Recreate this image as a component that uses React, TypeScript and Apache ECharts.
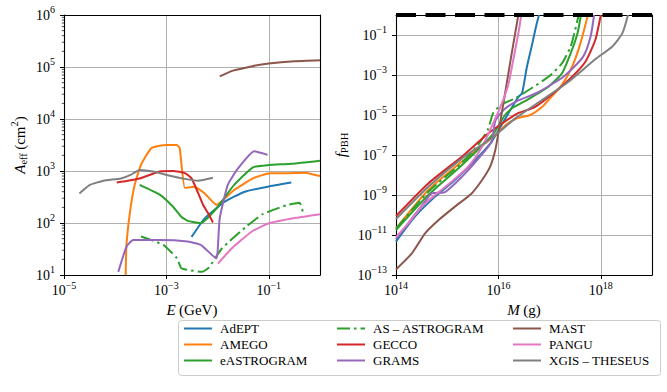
import React, { useEffect, useRef } from 'react';
import * as echarts from 'echarts';

// ---- Left panel: effective area A_eff (cm^2) vs E (GeV) ----
const adeptAeff = [[3.1e-3, 54], [5.6e-3, 123], [1.38e-2, 257], [3.4e-2, 400], [9.5e-2, 500], [2.75e-1, 600]];
const amegoAeff = [[1.6e-4, 10], [1.66e-4, 38], [1.95e-4, 166], [2.4e-4, 540], [3.2e-4, 1320], [5.1e-4, 2750], [1.0e-3, 3160], [1.6e-3, 3160], [1.82e-3, 2750], [2.3e-3, 470], [3.5e-3, 500], [5.6e-3, 370], [9.5e-3, 224], [2.1e-2, 430], [4.9e-2, 720], [1.05e-1, 910], [2.2e-1, 910], [5.0e-1, 930], [1, 800]];
const eastrogramAeff = [[3.0e-4, 540], [7.4e-4, 350], [1.35e-3, 205], [1.95e-3, 132], [2.6e-3, 110], [4.7e-3, 100], [9.5e-3, 190], [2.1e-2, 540], [4.9e-2, 1180], [1.0e-1, 1300], [2.8e-1, 1380], [1, 1580]];
const asAstrogramAeff = [[3.2e-4, 55], [8.7e-4, 38], [1.6e-3, 21], [1.95e-3, 13.5], [2.5e-3, 12.6], [5.0e-3, 11.5], [6.8e-3, 14], [1.2e-2, 32], [3.5e-2, 83], [7.6e-2, 148], [2.2e-1, 219], [4.0e-1, 245], [4.6e-1, 166]];
const geccoAeff = [[1.07e-4, 600], [3.0e-4, 720], [7.4e-4, 980], [1.35e-3, 1000], [2.3e-3, 910], [3.1e-3, 720], [4.2e-3, 370], [5.2e-3, 224], [6.5e-3, 155], [8.1e-3, 102]];
const gramsAeff = [[1.15e-4, 11.5], [1.66e-4, 35], [2.24e-4, 47], [7.4e-4, 47], [2.6e-3, 44], [4.7e-3, 38], [9.5e-3, 21], [1.0e-2, 28], [1.1e-2, 123], [1.58e-2, 540], [2.5e-2, 1120], [5.2e-2, 2400], [9.5e-2, 2040]];
const mastAeff = [[1.1e-2, 66000], [2.0e-2, 85000], [5.0e-2, 105000], [1.0e-1, 117000], [3.16e-1, 129000], [1, 135000]];
const panguAeff = [[1.02e-2, 16.6], [1.86e-2, 32], [4.6e-2, 68], [9.8e-2, 98], [3.4e-1, 126], [1, 148]];
const xgisAeff = [[2.0e-5, 370], [3.2e-5, 540], [5.9e-5, 650], [1.3e-4, 720], [1.95e-4, 830], [3.0e-4, 1050], [5.5e-4, 980], [1.17e-3, 810], [2.6e-3, 690], [4.2e-3, 650], [8.1e-3, 740]];

// ---- Right panel: f_PBH vs M (g) ----
const adeptFpbh = [[1e14, 4.7e-12], [2.34e14, 8.3e-11], [5.8e14, 8.3e-10], [1.41e15, 5.6e-9], [3.55e15, 5.6e-8], [7.4e15, 4.7e-7], [1.58e16, 1.26e-5], [2.45e16, 7.9e-5], [2.9e16, 1.26e-4], [3.6e16, 2.5e-3], [4.6e16, 0.038], [5.4e16, 0.25], [6.2e16, 1]];
const amegoFpbh = [[1e14, 2.1e-11], [4.27e14, 1.78e-9], [1.95e15, 4.7e-8], [7.9e15, 7.9e-7], [1.41e16, 3.2e-6], [2.3e16, 6.8e-6], [4.2e16, 1e-5], [7.1e16, 2.5e-5], [9.5e16, 5.6e-5], [1.74e17, 3.2e-4], [2.75e17, 2.6e-3], [4.0e17, 0.038], [5.6e17, 1]];
const eastrogramFpbh = [[1e14, 1.78e-11], [4.27e14, 1e-9], [1.95e15, 3.2e-8], [7.9e15, 1.12e-6], [1.35e16, 1e-5], [2.0e16, 2.5e-5], [3.1e16, 4.5e-5], [4.6e16, 8.1e-5], [9.5e16, 2.6e-4], [1.74e17, 1.2e-3], [2.57e17, 0.012], [3.5e17, 0.12], [4.1e17, 1]];
const asAstrogramFpbh = [[1e14, 2.1e-11], [4.27e14, 1.45e-9], [1.95e15, 4.2e-8], [4.0e15, 3.2e-7], [6.3e15, 2e-6], [7.9e15, 1.26e-5], [1.12e16, 3.2e-5], [2.14e16, 6.8e-5], [3.9e16, 1.78e-4], [9.5e16, 8.1e-4], [1.74e17, 3.8e-3], [2.57e17, 0.026], [3.16e17, 0.18], [3.7e17, 1]];
const geccoFpbh = [[1e14, 8.9e-11], [4.27e14, 3.8e-9], [1.95e15, 8.3e-8], [5.5e15, 8.9e-7], [1e16, 2.8e-6], [2.24e16, 1.12e-5], [5.25e16, 2.57e-5], [1.29e17, 1.45e-4], [2.75e17, 8.1e-4], [5.0e17, 4.6e-3], [7.8e17, 0.056], [1e18, 1]];
const gramsFpbh = [[1e14, 6.3e-12], [2e14, 6.3e-11], [4e14, 6.3e-10], [5e14, 1.2e-9], [9.1e14, 1.41e-9], [1.95e15, 8.3e-9], [4.1e15, 6.8e-8], [7.4e15, 4.7e-7], [8.7e15, 5e-6], [1.26e16, 1.78e-5], [2.3e16, 5e-5], [5.6e16, 1.26e-4], [1.86e17, 8.1e-4], [4.5e17, 8.1e-3], [6.3e17, 0.081], [7.4e17, 1]];
const mastFpbh = [[1e14, 1.9e-13], [2.04e14, 1.2e-12], [3.7e14, 1.2e-11], [6.8e14, 5.6e-11], [1.41e15, 2.6e-10], [3.0e15, 1.2e-9], [4.8e15, 5.6e-9], [6.9e15, 2.6e-8], [8.7e15, 1.78e-7], [1e16, 1.26e-6], [1.35e16, 1.2e-4], [1.82e16, 0.012], [2.45e16, 1]];
const panguFpbh = [[1e14, 7.9e-12], [1.74e14, 3.8e-11], [3.16e14, 2.6e-10], [5.8e14, 1e-9], [1.23e15, 4.7e-9], [2.57e15, 2.6e-8], [4.8e15, 2.6e-7], [7.9e15, 3.8e-6], [1.17e16, 3.8e-5], [1.58e16, 3.8e-4], [2e16, 7.9e-3], [2.5e16, 0.16], [2.8e16, 1]];
const xgisFpbh = [[1e14, 6.3e-11], [4.27e14, 2.6e-9], [1.95e15, 6.8e-8], [7.9e15, 7.9e-7], [2.14e16, 6.8e-6], [7.1e16, 5.6e-5], [2.34e17, 4.6e-4], [7.9e17, 6.3e-3], [1.66e18, 0.026], [2.63e18, 0.12], [3.4e18, 1]];

const fpbhLimit = [[1e14, 1], [1e19, 1]];

const names = ['AdEPT', 'AMEGO', 'eASTROGRAM', 'AS \u2013 ASTROGRAM', 'GECCO', 'GRAMS', 'MAST', 'PANGU', 'XGIS \u2013 THESEUS'];
const colors = ['#1f77b4', '#ff7f0e', '#2ca02c', '#2ca02c', '#d62728', '#9467bd', '#8c564b', '#e377c2', '#7f7f7f'];
const leftData = [adeptAeff, amegoAeff, eastrogramAeff, asAstrogramAeff, geccoAeff, gramsAeff, mastAeff, panguAeff, xgisAeff];
const rightData = [adeptFpbh, amegoFpbh, eastrogramFpbh, asAstrogramFpbh, geccoFpbh, gramsFpbh, mastFpbh, panguFpbh, xgisFpbh];

const FONT = "'Liberation Serif', 'DejaVu Serif', serif";

const tickRich = {
  b: { fontSize: 14, fontFamily: FONT, color: '#000' },
  s: { fontSize: 10, fontFamily: FONT, color: '#000', padding: [0, 0, 11, 0] },
};
const fmtPow = (v: number) => {
  const e = Math.round(Math.log10(v));
  return `{b|10}{s|${e < 0 ? '\u2212' + -e : e}}`;
};

const nameRich = {
  i: { fontSize: 15, fontFamily: FONT, fontStyle: 'italic', color: '#000' },
  r: { fontSize: 15, fontFamily: FONT, color: '#000' },
  sub: { fontSize: 10.5, fontFamily: FONT, color: '#000', padding: [8, 0, 0, 0] },
  sup: { fontSize: 10.5, fontFamily: FONT, color: '#000', padding: [0, 0, 10, 0] },
};

function mainAxis(gridIndex: number, min: number, max: number, interval: number, extra: any) {
  return {
    type: 'log',
    logBase: 10,
    gridIndex,
    min,
    max,
    interval,
    axisLine: { show: true, onZero: false, lineStyle: { color: '#000', width: 1.1 } },
    axisTick: { show: true, inside: false, length: 4, lineStyle: { color: '#000', width: 1 } },
    splitLine: { show: true, showMinLine: false, showMaxLine: false, lineStyle: { color: '#b0b0b0', width: 1 } },
    minorTick: { show: false },
    ...extra,
  };
}

function frameAxis(gridIndex: number, min: number, max: number, position: string) {
  return {
    type: 'log',
    logBase: 10,
    gridIndex,
    min,
    max,
    position,
    axisLine: { show: true, onZero: false, lineStyle: { color: '#000', width: 1.1 } },
    axisTick: { show: false },
    axisLabel: { show: false },
    splitLine: { show: false },
  };
}

const minorTicks: number[][] = [];
for (let k = 1; k < 6; k++) {
  for (let m = 2; m < 10; m++) minorTicks.push([1e-5, m * Math.pow(10, k)]);
}

export default function App() {
  const ref = useRef<HTMLDivElement>(null);
  useEffect(() => {
    document.body.style.margin = '0';
    if (!ref.current) return;
    const chart = echarts.init(ref.current, undefined, { renderer: 'svg' });

    const series: any[] = [];
    names.forEach((n, i) => {
      const isDash = i === 3;
      const ls = { color: colors[i], width: 2, type: isDash ? [13, 4, 2.5, 4] : 'solid' };
      series.push({
        name: n, type: 'line', xAxisIndex: 0, yAxisIndex: 0, data: leftData[i],
        showSymbol: false, symbol: 'none', smooth: 0.15, lineStyle: ls, itemStyle: { color: colors[i] },
      });
      series.push({
        name: n, type: 'line', xAxisIndex: 1, yAxisIndex: 1, data: rightData[i],
        showSymbol: false, symbol: 'none', smooth: 0.2, lineStyle: ls, itemStyle: { color: colors[i] },
      });
    });
    series.push({
      name: 'limit', type: 'line', xAxisIndex: 1, yAxisIndex: 1, data: fpbhLimit,
      showSymbol: false, symbol: 'none', clip: false, z: 5,
      lineStyle: { color: '#000', width: 4, type: [20, 9.5] },
    });
    series.push({
      type: 'custom', xAxisIndex: 0, yAxisIndex: 0, clip: false, silent: true, data: minorTicks,
      renderItem: (params: any, api: any) => {
        const p = api.coord([api.value(0), api.value(1)]);
        return { type: 'line', shape: { x1: p[0] - 2.2, y1: p[1], x2: p[0], y2: p[1] }, style: { stroke: '#000', lineWidth: 0.7 } };
      },
    });

    const legendCols = [183, 336, 512];
    const option: any = {
      animation: false,
      backgroundColor: '#fff',
      grid: [
        { left: 64, top: 15, width: 256, height: 260 },
        { left: 396, top: 15, width: 256, height: 260 },
      ],
      xAxis: [
        mainAxis(0, 1e-5, 1, 2, {
          position: 'bottom',
          axisLabel: { formatter: fmtPow, rich: tickRich, margin: 5, showMaxLabel: false },
          name: '{i|E} {r|(GeV)}', nameLocation: 'middle', nameGap: 27, nameTextStyle: { rich: nameRich },
        }),
        mainAxis(1, 1e14, 1e19, 2, {
          position: 'bottom',
          axisLabel: { formatter: fmtPow, rich: tickRich, margin: 5, showMaxLabel: false },
          name: '{i|M} {r|(g)}', nameLocation: 'middle', nameGap: 27, nameTextStyle: { rich: nameRich },
        }),
        frameAxis(0, 1e-5, 1, 'top'),
        frameAxis(1, 1e14, 1e19, 'top'),
      ],
      yAxis: [
        mainAxis(0, 10, 1e6, 1, {
          position: 'left',
          axisLabel: { formatter: fmtPow, rich: tickRich, margin: 9 },
          name: '{i|A}{sub|eff} {r|(cm}{sup|2}{r|)}', nameLocation: 'middle', nameRotate: 90, nameGap: 34,
          nameTextStyle: { rich: nameRich },
        }),
        mainAxis(1, 1e-13, 1, 2, {
          position: 'left',
          axisLabel: { formatter: fmtPow, rich: tickRich, margin: 9, showMaxLabel: false },
          name: '{i|f}{sub|PBH}', nameLocation: 'middle', nameRotate: 90, nameGap: 46,
          nameTextStyle: { rich: nameRich },
        }),
        frameAxis(0, 10, 1e6, 'right'),
        frameAxis(1, 1e-13, 1, 'right'),
      ],
      legend: legendCols.map((left, c) => ({
        orient: 'vertical', left, top: 322, padding: 0, itemGap: 3, itemWidth: 28, itemHeight: 14,
        selectedMode: false,
        itemStyle: { color: 'rgba(0,0,0,0)', borderColor: 'rgba(0,0,0,0)', borderWidth: 0 },
        data: names.slice(c * 3, c * 3 + 3),
        textStyle: { fontFamily: FONT, fontSize: 13, color: '#000', padding: [0, 0, 0, 3] },
      })),
      graphic: [
        {
          type: 'rect', left: 178, top: 320, z: -1,
          shape: { width: 482, height: 55, r: 3 },
          style: { fill: '#fff', stroke: '#cccccc', lineWidth: 1 },
        },
      ],
      series,
    };
    chart.setOption(option);
    return () => chart.dispose();
  }, []);
  return <div ref={ref} style={{ width: 667, height: 392 }} />;
}
